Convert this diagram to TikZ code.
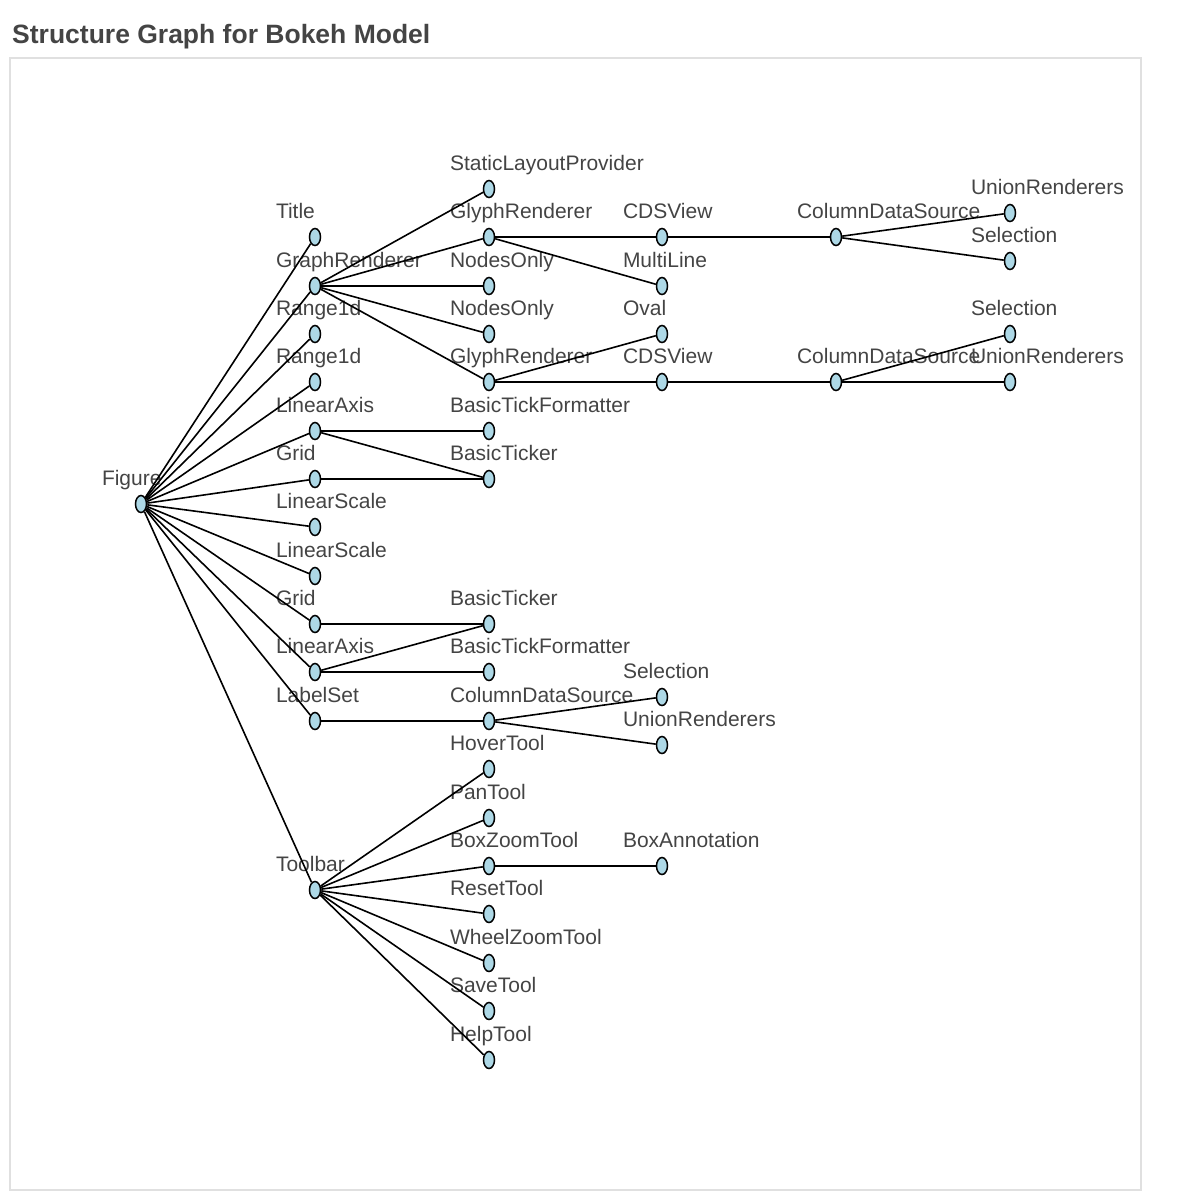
\documentclass[tikz,border=0pt]{standalone}
\usepackage{fontspec}
\setmainfont{Liberation Sans}
\usetikzlibrary{shapes.geometric}

\definecolor{nodefill}{HTML}{ADD8E6}
\definecolor{labelgray}{HTML}{444444}
\definecolor{framegray}{HTML}{E0E0E0}

\tikzset{
    lbl/.style={xshift=-39pt, yshift=19pt, inner sep=0pt,
        text=labelgray, font=\fontsize{21}{25}\selectfont},
    model/.style={ellipse, draw=black, fill=nodefill, line width=1.5pt,
        minimum width=11pt, minimum height=17pt, inner sep=0pt,
        label={[lbl]center:\smash{\makebox[0pt][l]{#1}}}},
    edge/.style={line width=1.6pt},
}

\begin{document}
\begin{tikzpicture}[x=1pt, y=-1pt]
            \useasboundingbox (0,0) rectangle (1200,1200);
            \draw[framegray, line width=1.5pt] (10,58) rectangle (1141,1190);
            \node[anchor=base west, inner sep=0pt, text=labelgray,
                font=\fontsize{26.5}{30}\selectfont\bfseries] (head) at (12,43)
                {Structure Graph for Bokeh Model};

            % figure and its direct children
            \node[model=Figure] (fig) at (141,504) {};
            \node[model=Title] (title) at (315,237) {};
            \node[model=GraphRenderer] (graph) at (315,286) {};
            \node[model=Range1d] (xrange) at (315,334) {};
            \node[model=Range1d] (yrange) at (315,382) {};
            \node[model=LinearAxis] (xaxis) at (315,431) {};
            \node[model=Grid] (xgrid) at (315,479) {};
            \node[model=LinearScale] (xscale) at (315,527) {};
            \node[model=LinearScale] (yscale) at (315,576) {};
            \node[model=Grid] (ygrid) at (315,624) {};
            \node[model=LinearAxis] (yaxis) at (315,672) {};
            \node[model=LabelSet] (labels) at (315,721) {};
            \node[model=Toolbar] (toolbar) at (315,890) {};

            \node[model=StaticLayoutProvider] (layout) at (489,189) {};
            \node[model=GlyphRenderer] (edgerend) at (489,237) {};
            \node[model=NodesOnly] (selpolicy) at (489,286) {};
            \node[model=NodesOnly] (inspolicy) at (489,334) {};
            \node[model=GlyphRenderer] (noderend) at (489,382) {};
            \node[model=BasicTickFormatter] (xfmt) at (489,431) {};
            \node[model=BasicTicker] (xticker) at (489,479) {};
            \node[model=BasicTicker] (yticker) at (489,624) {};
            \node[model=BasicTickFormatter] (yfmt) at (489,672) {};
            \node[model=ColumnDataSource] (labelsrc) at (489,721) {};
            \node[model=HoverTool] (hover) at (489,769) {};
            \node[model=PanTool] (pan) at (489,818) {};
            \node[model=BoxZoomTool] (boxzoom) at (489,866) {};
            \node[model=ResetTool] (reset) at (489,914) {};
            \node[model=WheelZoomTool] (wheel) at (489,963) {};
            \node[model=SaveTool] (save) at (489,1011) {};
            \node[model=HelpTool] (help) at (489,1060) {};

            \node[model=CDSView] (edgeview) at (662,237) {};
            \node[model=MultiLine] (multiline) at (662,286) {};
            \node[model=Oval] (oval) at (662,334) {};
            \node[model=CDSView] (nodeview) at (662,382) {};
            \node[model=Selection] (labelsel) at (662,697) {};
            \node[model=UnionRenderers] (labelunion) at (662,745) {};
            \node[model=BoxAnnotation] (boxann) at (662,866) {};

            \node[model=ColumnDataSource] (edgesrc) at (836,237) {};
            \node[model=ColumnDataSource] (nodesrc) at (836,382) {};

            \node[model=UnionRenderers] (edgeunion) at (1010,213) {};
            \node[model=Selection] (edgesel) at (1010,261) {};
            \node[model=Selection] (nodesel) at (1010,334) {};
            \node[model=UnionRenderers] (nodeunion) at (1010,382) {};

            % connectors
            \foreach \m in {title,graph,xrange,yrange,xaxis,xgrid,xscale,yscale,ygrid,yaxis,labels,toolbar}
                \draw[edge] (fig) -- (\m);
            \foreach \m in {layout,edgerend,selpolicy,inspolicy,noderend}
                \draw[edge] (graph) -- (\m);
            \draw[edge] (edgerend) -- (edgeview);
            \draw[edge] (edgerend) -- (multiline);
            \draw[edge] (edgeview) -- (edgesrc);
            \draw[edge] (edgesrc) -- (edgeunion);
            \draw[edge] (edgesrc) -- (edgesel);
            \draw[edge] (noderend) -- (oval);
            \draw[edge] (noderend) -- (nodeview);
            \draw[edge] (nodeview) -- (nodesrc);
            \draw[edge] (nodesrc) -- (nodesel);
            \draw[edge] (nodesrc) -- (nodeunion);
            \draw[edge] (xaxis) -- (xfmt);
            \draw[edge] (xaxis) -- (xticker);
            \draw[edge] (xgrid) -- (xticker);
            \draw[edge] (ygrid) -- (yticker);
            \draw[edge] (yaxis) -- (yticker);
            \draw[edge] (yaxis) -- (yfmt);
            \draw[edge] (labels) -- (labelsrc);
            \draw[edge] (labelsrc) -- (labelsel);
            \draw[edge] (labelsrc) -- (labelunion);
            \foreach \m in {hover,pan,boxzoom,reset,wheel,save,help}
                \draw[edge] (toolbar) -- (\m);
            \draw[edge] (boxzoom) -- (boxann);
        \end{tikzpicture}
\end{document}
